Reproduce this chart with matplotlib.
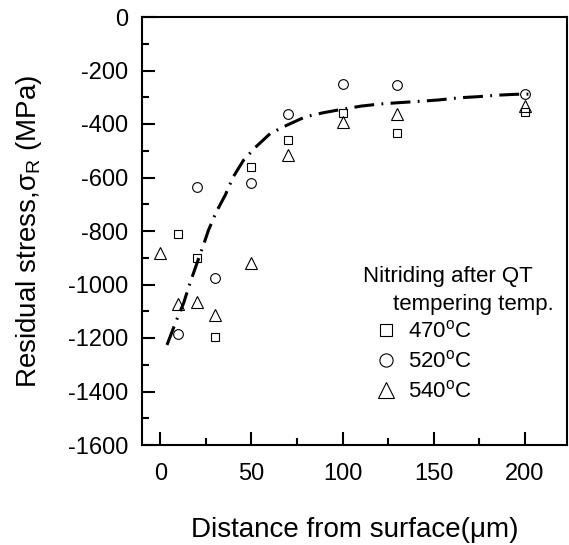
import matplotlib
matplotlib.use("Agg")
import matplotlib.pyplot as plt
from matplotlib.lines import Line2D
from matplotlib.ticker import MultipleLocator

plt.rcParams['font.family'] = ['Liberation Sans', 'DejaVu Sans']
plt.rcParams['mathtext.fontset'] = 'custom'
plt.rcParams['mathtext.rm'] = 'Liberation Sans'
plt.rcParams['mathtext.it'] = 'Liberation Sans:italic'
plt.rcParams['mathtext.sf'] = 'Liberation Sans'
plt.rcParams['axes.unicode_minus'] = False

# Data (distance in um, residual stress in MPa)
depth_470 = [10, 20, 30, 50, 70, 100, 130, 200]
stress_470 = [-812, -902, -1197, -561, -461, -359, -434, -355]
depth_520 = [10, 20, 30, 50, 70, 100, 130, 200]
stress_520 = [-1185, -634, -976, -619, -362, -251, -253, -288]
depth_540 = [0, 10, 20, 30, 50, 70, 100, 130, 200]
stress_540 = [-883, -1072, -1064, -1114, -918, -515, -392, -363, -334]

fit_x = [3.7, 8.8, 12.8, 16.1, 20.1, 23.2, 26.5, 30.7, 35.7, 39.9, 45.7, 52.2,
         60.4, 69.6, 79.6, 89.3, 99.7, 110.2, 120.8, 131.4, 142.7, 152.8,
         163.8, 173.9, 185.7, 194.9, 204]
fit_y = [-1226, -1135, -1070, -999, -921, -862, -796, -729, -665, -599, -535, -487,
         -435, -404, -373, -358, -345, -333, -325, -320, -315, -310,
         -302, -298, -292, -289, -288]

labels = ['470$^\\mathrm{o}$C', '520$^\\mathrm{o}$C', '540$^\\mathrm{o}$C']
x_ticks = [0, 50, 100, 150, 200]
y_ticks = [0, -200, -400, -600, -800, -1000, -1200, -1400, -1600]

fig = plt.figure(figsize=(5.69, 5.45), dpi=100)
ax = fig.add_axes([142/569, 100/545, 425/569, 428/545])

mk = dict(linestyle='none', markerfacecolor='none', markeredgecolor='black',
          markeredgewidth=0.8)
ax.plot(depth_470, stress_470, marker='s', markersize=6, **mk)
ax.plot(depth_520, stress_520, marker='o', markersize=7, **mk)
ax.plot(depth_540, stress_540, marker='^', markersize=8, **mk)

line, = ax.plot(fit_x, fit_y, color='black', linewidth=2.2,
                dash_capstyle='butt', solid_capstyle='butt')
line.set_dashes([6.5, 2.4, 0.6, 2.4])

ax.set_xlim(-10, 223)
ax.set_ylim(-1600, 0)
ax.set_xticks(x_ticks)
ax.set_yticks(y_ticks)
ax.xaxis.set_minor_locator(MultipleLocator(25))
ax.yaxis.set_minor_locator(MultipleLocator(100))
ax.tick_params(which='both', direction='in', width=1.5, labelsize=17,
               top=False, right=False)
ax.tick_params(which='major', length=9.5)
ax.tick_params(which='minor', length=5)
ax.tick_params(axis='x', pad=13)
ax.tick_params(axis='y', pad=10)
for s in ax.spines.values():
    s.set_linewidth(1.5)

ax.set_xlabel('Distance from surface(\u03bcm)', fontsize=20, labelpad=23)
ax.set_ylabel('Residual stress,\u03c3$_\\mathrm{R}$ (MPa)', fontsize=20, labelpad=17)

ax.text(0.52, 0.393, 'Nitriding after QT', transform=ax.transAxes,
        fontsize=16, ha='left', va='center')
ax.text(0.591, 0.329, 'tempering temp.', transform=ax.transAxes,
        fontsize=16, ha='left', va='center')

handles = [
    Line2D([], [], marker='s', markersize=8.5, **mk),
    Line2D([], [], marker='o', markersize=9.5, **mk),
    Line2D([], [], marker='^', markersize=11, **mk),
]
ax.legend(handles, labels, loc='upper left', bbox_to_anchor=(0.545, 0.29),
          frameon=False, fontsize=16, handlelength=1.1, handletextpad=0.45,
          labelspacing=0.35, borderpad=0, borderaxespad=0)

fig.savefig('out.png', dpi=100)
